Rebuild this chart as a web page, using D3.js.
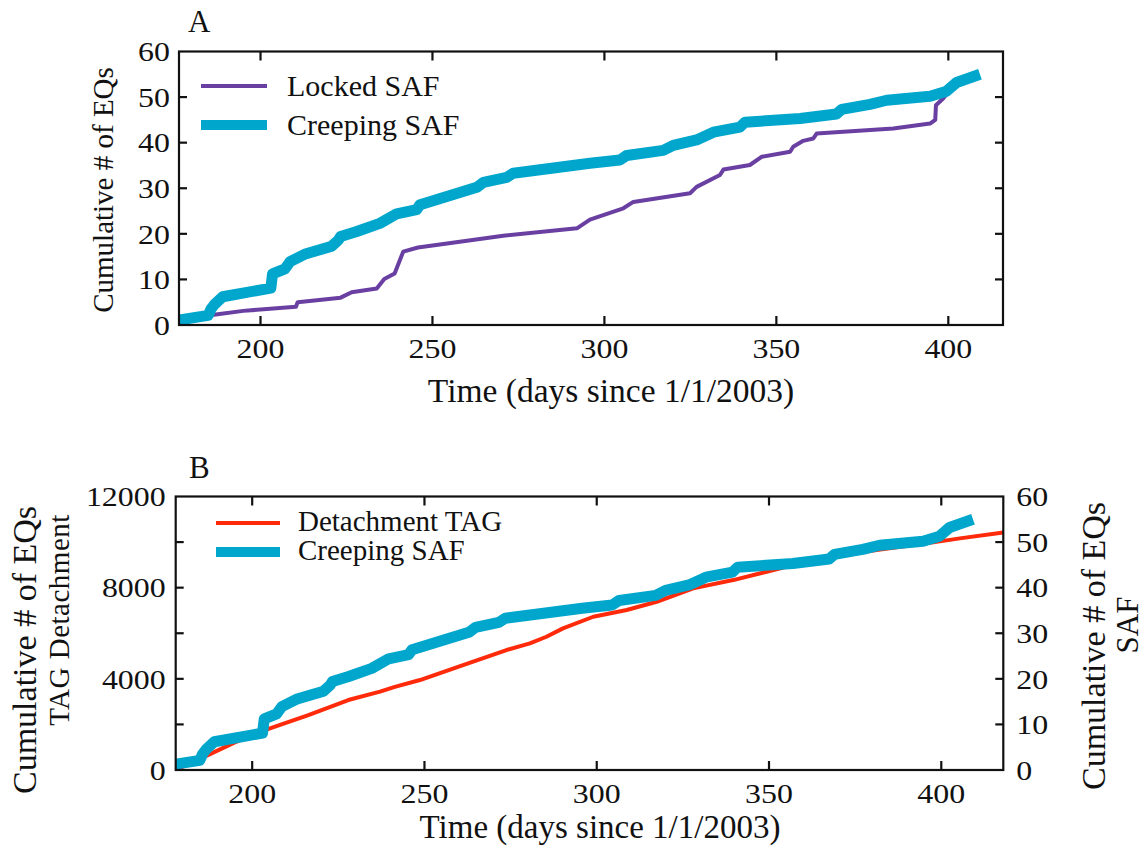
<!DOCTYPE html>
<html><head><meta charset="utf-8">
<script src="https://cdn.jsdelivr.net/npm/d3@7"></script>
<style>
html,body{margin:0;padding:0;background:#fff;}
text{font-family:"Liberation Serif","Times New Roman",serif;fill:#111;}
</style></head>
<body><svg id="c" width="1145" height="860"></svg>
<script>
// ---- data ----
const lockedDays   = [177,184,187,195,210.3,210.8,223.3,226.5,233.8,236.0,239.0,241.5,245.8,270.6,292,295.8,301.6,305.5,308.4,324.9,326.8,333.6,334.6,342.3,345.7,354,354.9,357.8,360.7,361.7,384,394.7,396.2,396.4,398.5,401,402];
const lockedCounts = [1,2,2.3,3.1,4.0,5.0,6.0,7.2,8.0,10.1,11.3,16.1,17.0,19.6,21.2,23.1,24.6,25.6,27.0,28.9,30.3,32.9,34.1,35.1,36.9,38.0,39.1,40.4,40.9,42.0,43.1,44.2,45.0,48.2,49.7,52,53];
const creepDays   = [176.3,184.8,185.6,186.6,189.0,203.0,203.5,207.1,208.6,212.8,220.7,222.6,223.3,228.0,234.7,239.6,245.4,246.4,262.9,264.8,271.6,273.5,295.8,304.5,306.5,317.1,320,326.8,331.7,339.4,340.9,356.9,367.5,369,377.2,382.1,394.7,399.5,402.4,409.2];
const creepCounts = [1.1,2.1,3.5,4.5,6.2,8.1,11.2,12.3,13.9,15.5,17.3,18.6,19.4,20.5,22.3,24.4,25.3,26.4,30.2,31.3,32.4,33.3,35.5,36.2,37.2,38.3,39.4,40.6,42.3,43.4,44.5,45.3,46.3,47.3,48.4,49.3,50.2,51.3,53.2,55.0];
const tagDays   = [177.8,185.3,194.8,203.7,216.3,227.9,237.1,241.4,248.7,261.2,273.8,280.6,285.4,290.2,299,308.7,317.4,328,339.6,349.3,357,368.6,381.2,395.7,405.4,418];
const tagCounts = [0,520,1200,1754,2412,3070,3436,3650,3947,4605,5263,5557,5846,6215,6724,7018,7382,7969,8333,8698,8991,9355,9649,9943,10163,10420];
const xTicks = [200,250,300,350,400];
const yTicksA = [0,10,20,30,40,50,60];
const yTicksBLeft = [0,2000,4000,6000,8000,10000,12000];
const yTicksBLeftLabels = [0,4000,8000,12000];
const yTicksBRight = [0,10,20,30,40,50,60];
const seriesNamesA = ["Locked SAF","Creeping SAF"];
const seriesNamesB = ["Detachment TAG","Creeping SAF"];
const xTitle = "Time (days since 1/1/2003)";

const COL_PURPLE="#6a3fa2", COL_CYAN="#00a6cc", COL_RED="#ff2a0a";
const svg = d3.select("#c");
const FS_TICK = 28, SX = 1.14;

function tickLabel(g,x,y,anchor,t){
  g.append("text").attr("transform",`translate(${x},${y}) scale(${SX},1)`)
   .attr("dy",anchor==="middle"?0:"0.35em").attr("text-anchor",anchor).attr("font-size",FS_TICK).text(t);
}
function frame(g, x0,x1,y0,y1){
  g.append("rect").attr("x",x0).attr("y",y0).attr("width",x1-x0).attr("height",y1-y0)
   .attr("fill","none").attr("stroke","#111").attr("stroke-width",2.2);
}
function ticksX(g,x,y0,y1){
  xTicks.forEach(t=>{
    const px=x(t);
    g.append("line").attr("x1",px).attr("x2",px).attr("y1",y1).attr("y2",y1-9).attr("stroke","#111").attr("stroke-width",2.2);
    g.append("line").attr("x1",px).attr("x2",px).attr("y1",y0).attr("y2",y0+9).attr("stroke","#111").attr("stroke-width",2.2);
    tickLabel(g,px,y1+33,"middle",t);
  });
}

// ---------- Panel A ----------
const A = {x0:179,x1:1003,y0:51.5,y1:325};
const xA = d3.scaleLinear().domain([176.3,415.9]).range([A.x0,A.x1]);
const yA = d3.scaleLinear().domain([0,60]).range([A.y1,A.y0]);
const gA = svg.append("g");
svg.append("defs").append("clipPath").attr("id","clipA").append("rect").attr("x",A.x0).attr("y",A.y0).attr("width",A.x1-A.x0).attr("height",A.y1-A.y0);
const lineA = d3.line().x(d=>xA(d[0])).y(d=>yA(d[1]));
gA.append("path").attr("clip-path","url(#clipA)").datum(lockedDays.map((d,i)=>[d,lockedCounts[i]]))
  .attr("d",lineA).attr("fill","none").attr("stroke",COL_PURPLE).attr("stroke-width",4).attr("stroke-linejoin","round");
gA.append("path").attr("clip-path","url(#clipA)").datum(creepDays.map((d,i)=>[d,creepCounts[i]]))
  .attr("d",lineA).attr("fill","none").attr("stroke",COL_CYAN).attr("stroke-width",11).attr("stroke-linejoin","round");
frame(gA,A.x0,A.x1,A.y0,A.y1);
ticksX(gA,xA,A.y0,A.y1);
yTicksA.forEach(t=>{
  const py=yA(t);
  if(t>0&&t<60){
    gA.append("line").attr("x1",A.x0).attr("x2",A.x0+8).attr("y1",py).attr("y2",py).attr("stroke","#111").attr("stroke-width",2.2);
    gA.append("line").attr("x1",A.x1).attr("x2",A.x1-8).attr("y1",py).attr("y2",py).attr("stroke","#111").attr("stroke-width",2.2);
  }
  tickLabel(gA,A.x0-9,py,"end",t);
});
// legend A
[[COL_PURPLE,4,86,seriesNamesA[0]],[COL_CYAN,10,125,seriesNamesA[1]]].forEach(([c,w,y,t])=>{
  gA.append("line").attr("x1",201).attr("x2",267).attr("y1",y).attr("y2",y).attr("stroke",c).attr("stroke-width",w);
  gA.append("text").attr("x",287).attr("y",y+10).attr("font-size",30).text(t);
});
svg.append("text").attr("x",188).attr("y",32).attr("font-size",31).text("A");
svg.append("text").attr("transform","translate(103,190) rotate(-90)").attr("text-anchor","middle").attr("dominant-baseline","central").attr("font-size",29).text("Cumulative # of EQs");
svg.append("text").attr("x",611).attr("y",402).attr("text-anchor","middle").attr("font-size",33.5).text(xTitle);

// ---------- Panel B ----------
const B = {x0:175.7,x1:1003.3,y0:496.5,y1:770};
const xB = d3.scaleLinear().domain([177.8,418.0]).range([B.x0,B.x1]);
const yBL = d3.scaleLinear().domain([0,12000]).range([B.y1,B.y0]);
const yBR = d3.scaleLinear().domain([0,60]).range([B.y1,B.y0]);
const gB = svg.append("g");
svg.select("defs").append("clipPath").attr("id","clipB").append("rect").attr("x",B.x0).attr("y",B.y0).attr("width",B.x1-B.x0).attr("height",B.y1-B.y0);
gB.append("path").attr("clip-path","url(#clipB)").datum(tagDays.map((d,i)=>[d,tagCounts[i]]))
  .attr("d",d3.line().x(d=>xB(d[0])).y(d=>yBL(d[1]))).attr("fill","none").attr("stroke",COL_RED).attr("stroke-width",4).attr("stroke-linejoin","round");
gB.append("path").attr("clip-path","url(#clipB)").datum(creepDays.map((d,i)=>[d,creepCounts[i]]))
  .attr("d",d3.line().x(d=>xB(d[0])).y(d=>yBR(d[1]))).attr("fill","none").attr("stroke",COL_CYAN).attr("stroke-width",11).attr("stroke-linejoin","round");
frame(gB,B.x0,B.x1,B.y0,B.y1);
ticksX(gB,xB,B.y0,B.y1);
yTicksBLeft.forEach(t=>{
  const py=yBL(t);
  if(t>0&&t<12000) gB.append("line").attr("x1",B.x0).attr("x2",B.x0+8).attr("y1",py).attr("y2",py).attr("stroke","#111").attr("stroke-width",2.2);
});
yTicksBLeftLabels.forEach(t=>{ tickLabel(gB,B.x0-10,yBL(t),"end",t); });
yTicksBRight.forEach(t=>{
  const py=yBR(t);
  if(t>0&&t<60) gB.append("line").attr("x1",B.x1).attr("x2",B.x1-8).attr("y1",py).attr("y2",py).attr("stroke","#111").attr("stroke-width",2.2);
  tickLabel(gB,B.x1+13,py,"start",t);
});
[[COL_RED,4,523,seriesNamesB[0]],[COL_CYAN,10,552,seriesNamesB[1]]].forEach(([c,w,y,t])=>{
  gB.append("line").attr("x1",216).attr("x2",280).attr("y1",y).attr("y2",y).attr("stroke",c).attr("stroke-width",w);
  gB.append("text").attr("x",298).attr("y",y+8).attr("font-size",29).text(t);
});
svg.append("text").attr("x",189).attr("y",478).attr("font-size",31).text("B");
svg.append("text").attr("transform","translate(24,650) rotate(-90)").attr("text-anchor","middle").attr("dominant-baseline","central").attr("font-size",34).text("Cumulative # of EQs");
svg.append("text").attr("transform","translate(59,620) rotate(-90)").attr("text-anchor","middle").attr("dominant-baseline","central").attr("font-size",29).attr("letter-spacing","0.5").text("TAG Detachment");
svg.append("text").attr("transform","translate(1093,646) rotate(-90)").attr("text-anchor","middle").attr("dominant-baseline","central").attr("font-size",34).text("Cumulative # of EQs");
svg.append("text").attr("transform","translate(1127,625) rotate(-90)").attr("text-anchor","middle").attr("dominant-baseline","central").attr("font-size",31).text("SAF");
svg.append("text").attr("x",600).attr("y",838).attr("text-anchor","middle").attr("font-size",33).text(xTitle);
</script></body></html>
